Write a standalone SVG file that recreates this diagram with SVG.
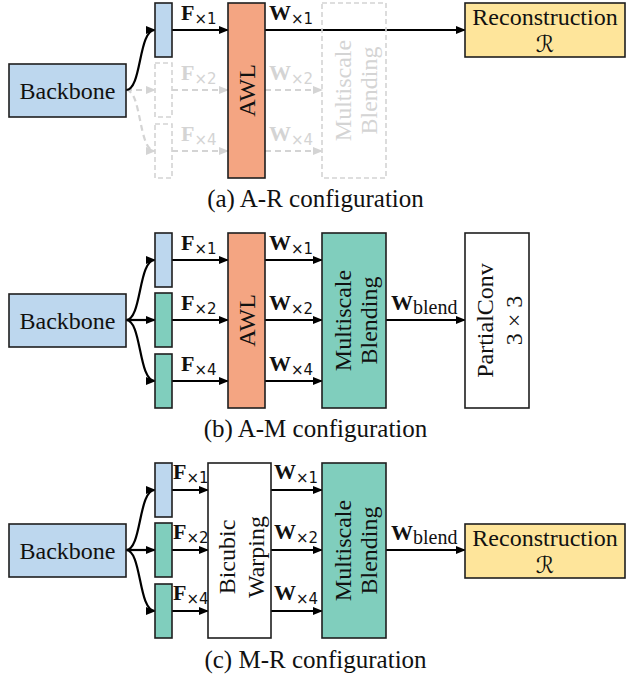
<svg xmlns="http://www.w3.org/2000/svg" width="628" height="683" viewBox="0 0 628 683">
  <defs>
    <style>
      .box{stroke:#1e1e1e;stroke-width:1.6}
      .blue{fill:#bdd7ee}
      .green{fill:#80cebd}
      .salmon{fill:#f4a582}
      .yellow{fill:#fee59b}
      .white{fill:#ffffff}
      .ghost{fill:none;stroke:#d4d4d4;stroke-width:1.6;stroke-dasharray:5 3}
      .t{font-family:"Liberation Serif","Times New Roman",serif;font-size:24px;fill:#111}
      .cap{font-family:"Liberation Serif","Times New Roman",serif;font-size:25px;fill:#111;text-anchor:middle}
      .mid{text-anchor:middle}
      .b{font-family:"Liberation Serif","Times New Roman",serif;font-weight:bold;font-size:22px;fill:#111}
      .sub{font-family:"DejaVu Sans",sans-serif;font-weight:normal;font-size:15px}
      .subs{font-family:"Liberation Serif",serif;font-weight:normal;font-size:20px}
      .gray{fill:#d4d4d4}
      .arr{fill:none;stroke:#000;stroke-width:2.2;marker-end:url(#ah)}
      .garr{fill:none;stroke:#d4d4d4;stroke-width:2.2;stroke-dasharray:6 4;marker-end:url(#gh)}
      .scr{font-family:"DejaVu Serif","DejaVu Sans",serif;font-style:italic;font-size:23px;fill:#111;text-anchor:middle}
    </style>
    <marker id="ah" markerUnits="userSpaceOnUse" markerWidth="10" markerHeight="8" refX="9" refY="4" orient="auto">
      <path d="M0,0 L10,4 L0,8 z" fill="#000"/>
    </marker>
    <marker id="gh" markerUnits="userSpaceOnUse" markerWidth="10" markerHeight="8" refX="9" refY="4" orient="auto">
      <path d="M0,0 L10,4 L0,8 z" fill="#d4d4d4"/>
    </marker>
  </defs>

  <!-- ===== (a) A-R configuration ===== -->
  <g id="a-connectors">
    <path class="garr" d="M126,90 L155,90"/>
    <path class="garr" d="M126,90 C142,90 138,151 155,151"/>
    <path class="garr" d="M172,90 L228,90"/>
    <path class="garr" d="M172,151 L228,151"/>
    <path class="garr" d="M265,90 L322,90"/>
    <path class="garr" d="M265,151 L322,151"/>
    <path class="arr" d="M126,90 C142,90 138,30 155,30"/>
    <path class="arr" d="M172,30 L228,30"/>
    <path class="arr" d="M265,30 L465,30"/>
  </g>
  <g id="a-backbone"><rect class="box blue" x="9" y="64" width="117" height="53"/><text class="t mid" x="67.5" y="99">Backbone</text></g>
  <g id="a-f1"><rect class="box blue" x="155" y="3" width="17" height="54"/></g>
  <g id="a-f2"><rect class="ghost" x="155" y="63" width="17" height="54"/></g>
  <g id="a-f4"><rect class="ghost" x="155" y="124" width="17" height="54"/></g>
  <g id="a-awl"><rect class="box salmon" x="228" y="3" width="37" height="175"/><text class="t mid" transform="translate(246.5,90.5) rotate(-90)" y="8.5">AWL</text></g>
  <g id="a-blend"><rect class="ghost" x="322" y="3" width="64" height="175"/>
    <text class="t mid gray" transform="translate(354,90.5) rotate(-90)" y="-3">Multiscale</text>
    <text class="t mid gray" transform="translate(354,90.5) rotate(-90)" y="23">Blending</text></g>
  <g id="a-recon"><rect class="box yellow" x="465" y="3" width="160" height="54"/><text class="t mid" x="545" y="25">Reconstruction</text><text class="scr" x="545" y="52">ℛ</text></g>
  <g id="a-labels">
    <text class="b" x="181" y="20">F<tspan class="sub" dy="4">×1</tspan></text>
    <text class="b gray" x="181" y="80">F<tspan class="sub" dy="4">×2</tspan></text>
    <text class="b gray" x="181" y="141">F<tspan class="sub" dy="4">×4</tspan></text>
    <text class="b" x="269" y="20">W<tspan class="sub" dy="4">×1</tspan></text>
    <text class="b gray" x="269" y="80">W<tspan class="sub" dy="4">×2</tspan></text>
    <text class="b gray" x="269" y="141">W<tspan class="sub" dy="4">×4</tspan></text>
  </g>
  <text class="cap" x="315.5" y="207">(a) A-R configuration</text>

  <!-- ===== (b) A-M configuration ===== -->
  <g id="b-connectors">
    <path class="arr" d="M126,320 C142,320 138,260 155,260"/>
    <path class="arr" d="M126,320 L155,320"/>
    <path class="arr" d="M126,320 C142,320 138,381 155,381"/>
    <path class="arr" d="M172,260 L228,260"/>
    <path class="arr" d="M172,320 L228,320"/>
    <path class="arr" d="M172,381 L228,381"/>
    <path class="arr" d="M265,260 L322,260"/>
    <path class="arr" d="M265,320 L322,320"/>
    <path class="arr" d="M265,381 L322,381"/>
    <path class="arr" d="M386,320 L465,320"/>
  </g>
  <g id="b-backbone"><rect class="box blue" x="9" y="294" width="117" height="53"/><text class="t mid" x="67.5" y="329">Backbone</text></g>
  <g id="b-f1"><rect class="box blue" x="155" y="233" width="17" height="54"/></g>
  <g id="b-f2"><rect class="box green" x="155" y="293" width="17" height="54"/></g>
  <g id="b-f4"><rect class="box green" x="155" y="354" width="17" height="54"/></g>
  <g id="b-awl"><rect class="box salmon" x="228" y="233" width="37" height="175"/><text class="t mid" transform="translate(246.5,320.5) rotate(-90)" y="8.5">AWL</text></g>
  <g id="b-blend"><rect class="box green" x="322" y="233" width="64" height="175"/>
    <text class="t mid" transform="translate(354,320.5) rotate(-90)" y="-3">Multiscale</text>
    <text class="t mid" transform="translate(354,320.5) rotate(-90)" y="23">Blending</text></g>
  <g id="b-pconv"><rect class="box white" x="465" y="233" width="64" height="175"/>
    <text class="t mid" transform="translate(497,320.5) rotate(-90)" y="-4">PartialConv</text>
    <text class="t mid" transform="translate(497,320.5) rotate(-90)" y="25">3 × 3</text></g>
  <g id="b-labels">
    <text class="b" x="181" y="250">F<tspan class="sub" dy="4">×1</tspan></text>
    <text class="b" x="181" y="310">F<tspan class="sub" dy="4">×2</tspan></text>
    <text class="b" x="181" y="371">F<tspan class="sub" dy="4">×4</tspan></text>
    <text class="b" x="269" y="250">W<tspan class="sub" dy="4">×1</tspan></text>
    <text class="b" x="269" y="310">W<tspan class="sub" dy="4">×2</tspan></text>
    <text class="b" x="269" y="371">W<tspan class="sub" dy="4">×4</tspan></text>
    <text class="b" x="391" y="310">W<tspan class="subs" dy="4">blend</tspan></text>
  </g>
  <text class="cap" x="315.5" y="437">(b) A-M configuration</text>

  <!-- ===== (c) M-R configuration ===== -->
  <g id="c-connectors">
    <path class="arr" d="M126,550 C142,550 138,490 155,490"/>
    <path class="arr" d="M126,550 L155,550"/>
    <path class="arr" d="M126,550 C142,550 138,611 155,611"/>
    <path class="arr" d="M172,490 L208,490"/>
    <path class="arr" d="M172,550 L208,550"/>
    <path class="arr" d="M172,611 L208,611"/>
    <path class="arr" d="M271,490 L322,490"/>
    <path class="arr" d="M271,550 L322,550"/>
    <path class="arr" d="M271,611 L322,611"/>
    <path class="arr" d="M386,550 L465,550"/>
  </g>
  <g id="c-backbone"><rect class="box blue" x="9" y="524" width="117" height="53"/><text class="t mid" x="67.5" y="559">Backbone</text></g>
  <g id="c-f1"><rect class="box blue" x="155" y="463" width="17" height="54"/></g>
  <g id="c-f2"><rect class="box green" x="155" y="523" width="17" height="54"/></g>
  <g id="c-f4"><rect class="box green" x="155" y="584" width="17" height="54"/></g>
  <g id="c-warp"><rect class="box white" x="208" y="463" width="63" height="175"/>
    <text class="t mid" transform="translate(239.5,557) rotate(-90)" y="-4.5">Bicubic</text>
    <text class="t mid" transform="translate(239.5,557) rotate(-90)" y="24">Warping</text></g>
  <g id="c-blend"><rect class="box green" x="322" y="463" width="64" height="175"/>
    <text class="t mid" transform="translate(354,550.5) rotate(-90)" y="-3">Multiscale</text>
    <text class="t mid" transform="translate(354,550.5) rotate(-90)" y="23">Blending</text></g>
  <g id="c-recon"><rect class="box yellow" x="465" y="524" width="160" height="54"/><text class="t mid" x="545" y="546">Reconstruction</text><text class="scr" x="545" y="573">ℛ</text></g>
  <g id="c-labels">
    <text class="b" x="173" y="479">F<tspan class="sub" dy="4">×1</tspan></text>
    <text class="b" x="173" y="539">F<tspan class="sub" dy="4">×2</tspan></text>
    <text class="b" x="173" y="600">F<tspan class="sub" dy="4">×4</tspan></text>
    <text class="b" x="274" y="479">W<tspan class="sub" dy="4">×1</tspan></text>
    <text class="b" x="274" y="539">W<tspan class="sub" dy="4">×2</tspan></text>
    <text class="b" x="274" y="600">W<tspan class="sub" dy="4">×4</tspan></text>
    <text class="b" x="391" y="540">W<tspan class="subs" dy="4">blend</tspan></text>
  </g>
  <text class="cap" x="315.5" y="668">(c) M-R configuration</text>
</svg>
